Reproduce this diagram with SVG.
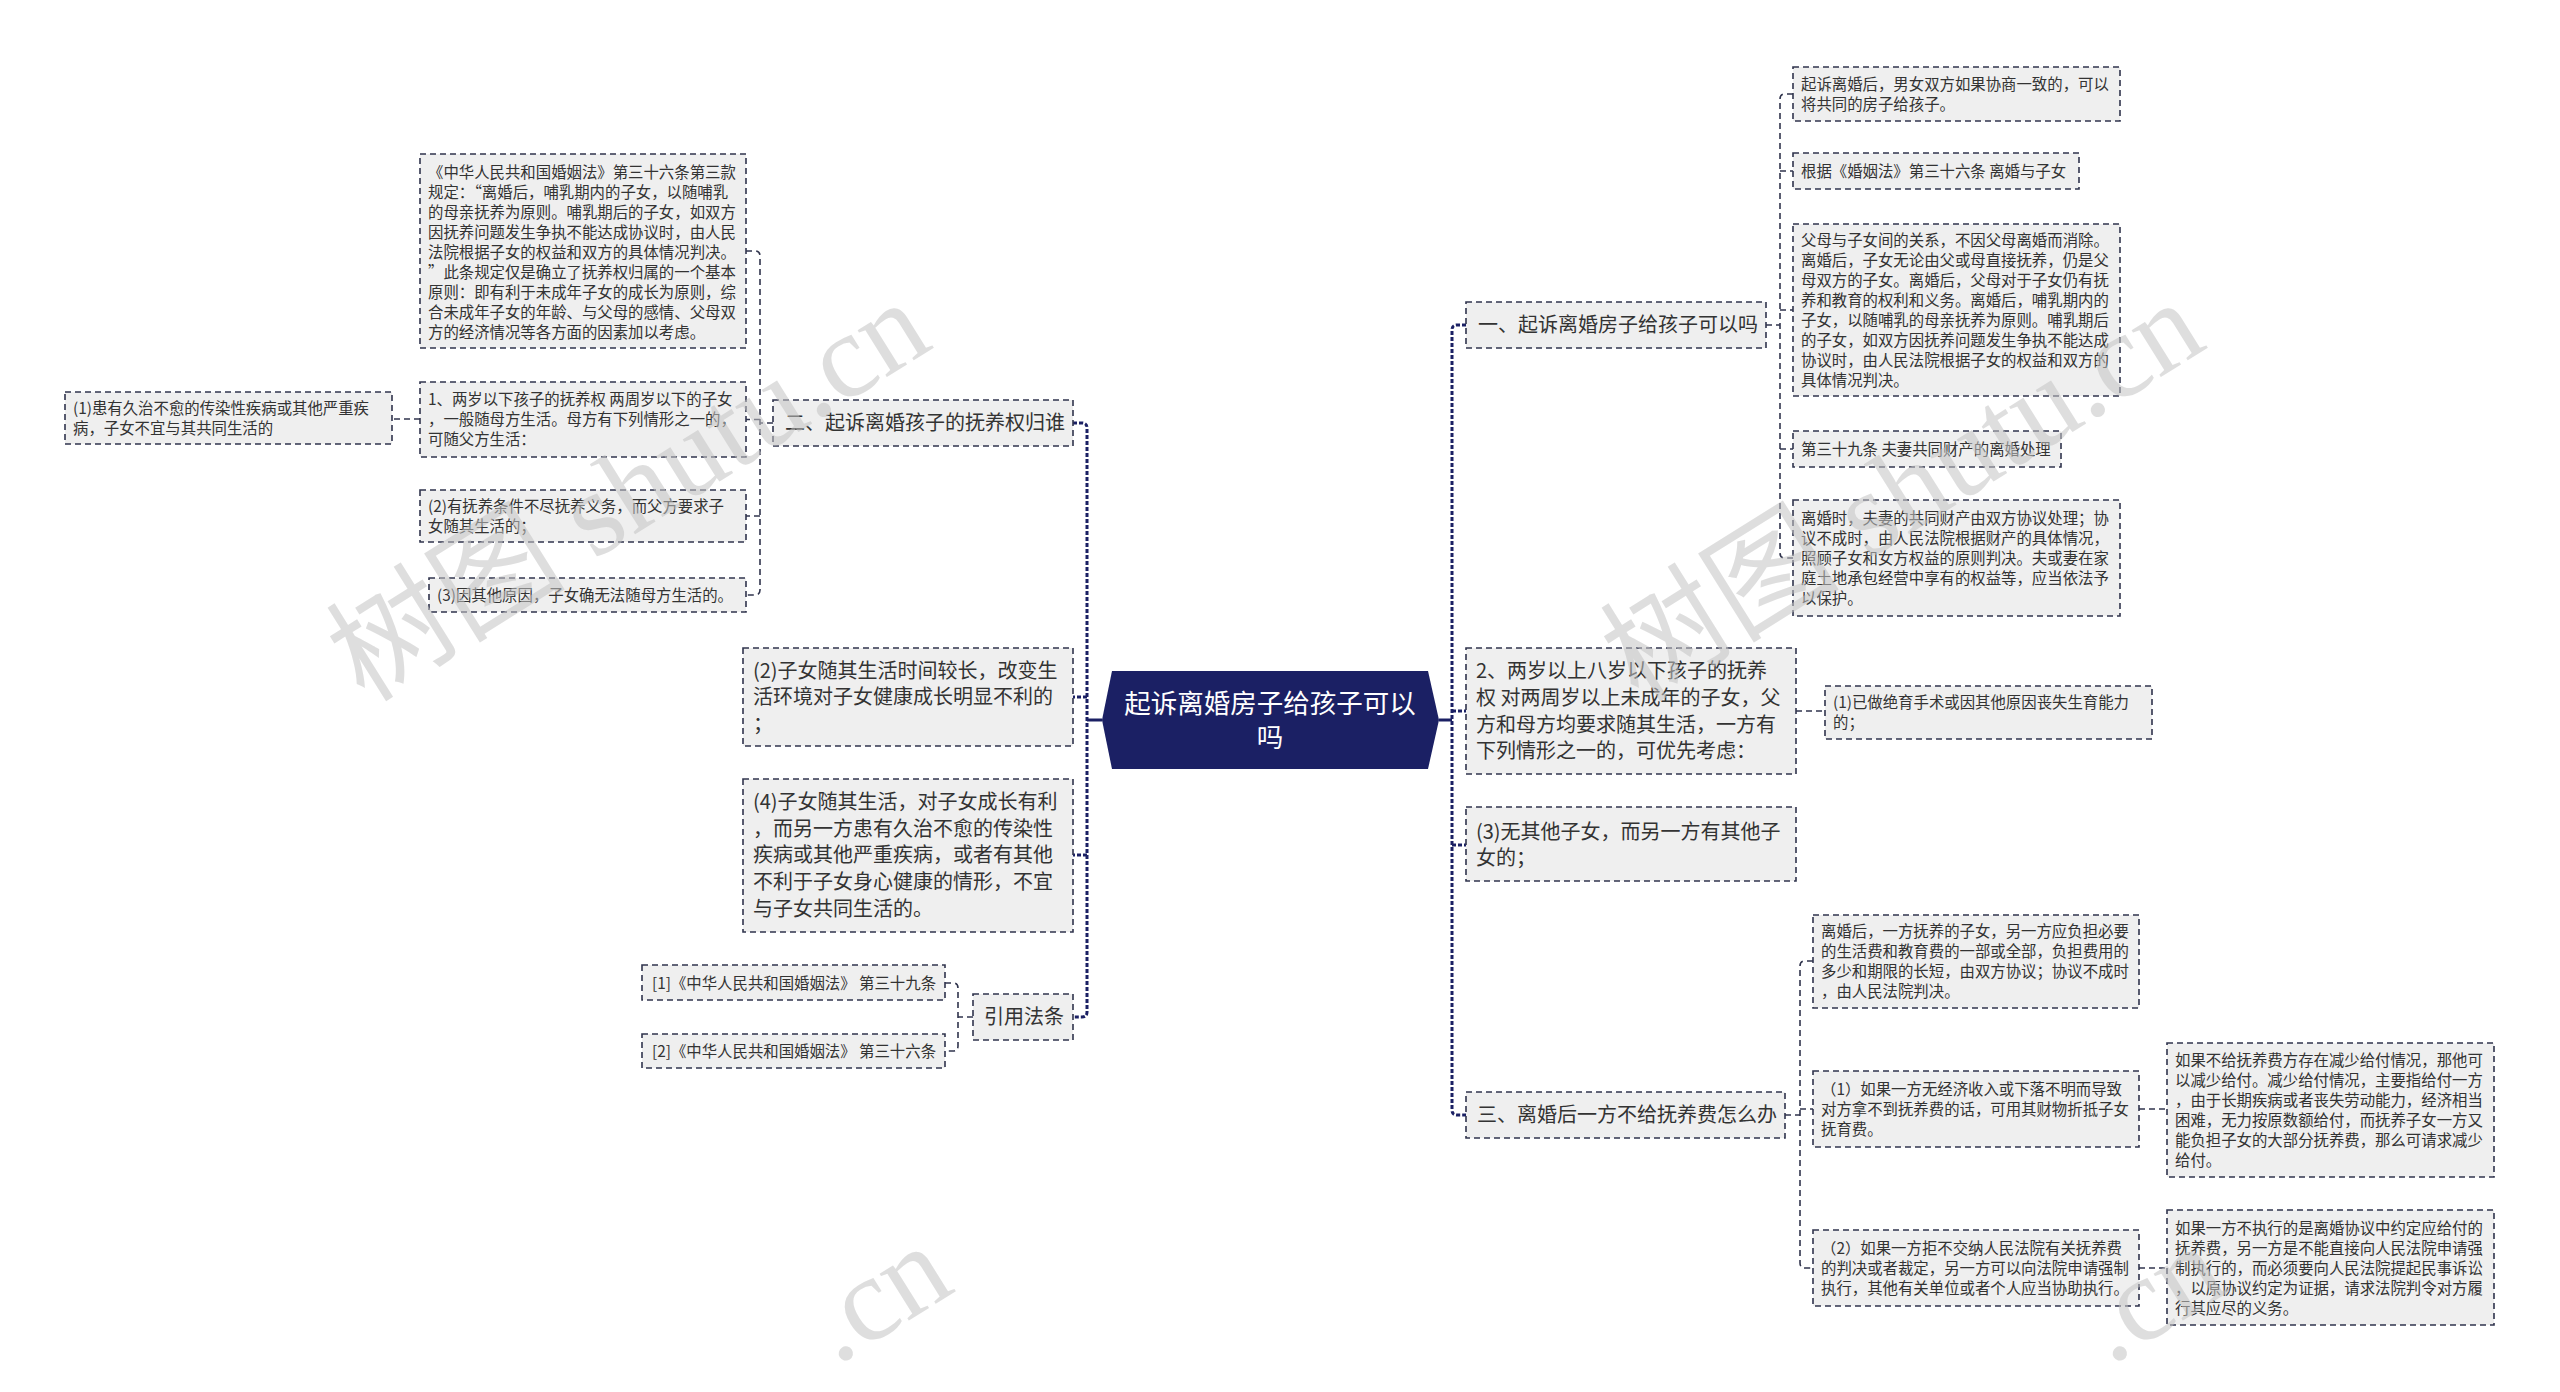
<svg xmlns="http://www.w3.org/2000/svg" width="2560" height="1392" viewBox="0 0 2560 1392">
<style>
.box{fill:#efefef;stroke:#30344d;stroke-width:1.6;stroke-dasharray:6 4}
.t{font-family:"Noto Sans CJK SC","Liberation Sans",sans-serif;fill:#333}
.s{font-size:15.4px}
.m{font-size:20px}
.trunk{fill:none;stroke:#1b2064;stroke-width:3;stroke-dasharray:4 2}
.solid{fill:none;stroke:#1b2064;stroke-width:3}
.link{fill:none;stroke:#30344d;stroke-width:1.6;stroke-dasharray:6 4}
.wm{font-family:"Liberation Serif","Noto Sans CJK SC",serif;font-size:120px;fill:#c4c4c4;opacity:0.55}
</style>
<rect width="2560" height="1392" fill="#ffffff"/>

<g id="connectors">
  <path class="solid" d="M1102,720 H1087"/>
  <path class="solid" d="M1439,720 H1452"/>
  <path class="trunk" d="M1073,423 H1082 Q1087,423 1087,428 V1012 Q1087,1017 1082,1017 H1073"/>
  <path class="trunk" d="M1087,697 H1073 M1087,855 H1073"/>
  <path class="trunk" d="M1466,325 H1457 Q1452,325 1452,330 V1110 Q1452,1115 1457,1115 H1466"/>
  <path class="trunk" d="M1452,711 H1466 M1452,845 H1466"/>
  <path class="link" d="M773,423 H760"/>
  <path class="link" d="M746,251 H755 Q760,251 760,256 V590 Q760,595 755,595 H746"/>
  <path class="link" d="M760,419.5 H746 M760,516 H746"/>
  <path class="link" d="M420,419 H392"/>
  <path class="link" d="M973,1017 H958"/>
  <path class="link" d="M945,983 H953 Q958,983 958,988 V1046 Q958,1051 953,1051 H945"/>
  <path class="link" d="M1766,325 H1780"/>
  <path class="link" d="M1793,94 H1785 Q1780,94 1780,99 V553 Q1780,558 1785,558 H1793"/>
  <path class="link" d="M1780,171 H1793 M1780,310 H1793 M1780,449 H1793"/>
  <path class="link" d="M1796,711 H1825"/>
  <path class="link" d="M1785,1115 H1800"/>
  <path class="link" d="M1813,961 H1805 Q1800,961 1800,966 V1263 Q1800,1268 1805,1268 H1813"/>
  <path class="link" d="M1800,1109 H1813"/>
  <path class="link" d="M2139,1109 H2167 M2139,1268 H2167"/>
</g>

<g id="center">
  <polygon points="1102,720 1112,671 1428,671 1439,720 1428,769 1112,769" fill="#1b2064"/>
  <text x="1270" y="712.5" text-anchor="middle" style="font-family:'Noto Sans CJK SC',sans-serif;font-size:26.5px;fill:#ffffff">起诉离婚房子给孩子可以</text>
  <text x="1270" y="746.5" text-anchor="middle" style="font-family:'Noto Sans CJK SC',sans-serif;font-size:26.5px;fill:#ffffff">吗</text>
</g>

<!-- Left side -->
<g id="nodeA">
  <rect class="box" x="773" y="400" width="300" height="46"/>
  <text class="t m" x="785" y="430">二、起诉离婚孩子的抚养权归谁</text>
</g>
<g id="nodeA1">
  <rect class="box" x="420" y="154" width="326" height="194"/>
  <text class="t s">
    <tspan x="428" y="178">《中华人民共和国婚姻法》第三十六条第三款</tspan>
    <tspan x="428" y="198">规定：“离婚后，哺乳期内的子女，以随哺乳</tspan>
    <tspan x="428" y="218">的母亲抚养为原则。哺乳期后的子女，如双方</tspan>
    <tspan x="428" y="238">因抚养问题发生争执不能达成协议时，由人民</tspan>
    <tspan x="428" y="258">法院根据子女的权益和双方的具体情况判决。</tspan>
    <tspan x="428" y="278">”此条规定仅是确立了抚养权归属的一个基本</tspan>
    <tspan x="428" y="298">原则：即有利于未成年子女的成长为原则，综</tspan>
    <tspan x="428" y="318">合未成年子女的年龄、与父母的感情、父母双</tspan>
    <tspan x="428" y="338">方的经济情况等各方面的因素加以考虑。</tspan>
  </text>
</g>
<g id="nodeA2">
  <rect class="box" x="420" y="382" width="326" height="75"/>
  <text class="t s">
    <tspan x="428" y="405">1、两岁以下孩子的抚养权 两周岁以下的子女</tspan>
    <tspan x="428" y="425">，一般随母方生活。母方有下列情形之一的，</tspan>
    <tspan x="428" y="445">可随父方生活：</tspan>
  </text>
</g>
<g id="nodeA2c">
  <rect class="box" x="65" y="392" width="327" height="52"/>
  <text class="t s">
    <tspan x="73" y="413.5">(1)患有久治不愈的传染性疾病或其他严重疾</tspan>
    <tspan x="73" y="433.5">病，子女不宜与其共同生活的</tspan>
  </text>
</g>
<g id="nodeA3">
  <rect class="box" x="420" y="490" width="326" height="52"/>
  <text class="t s">
    <tspan x="428" y="511.5">(2)有抚养条件不尽抚养义务，而父方要求子</tspan>
    <tspan x="428" y="531.5">女随其生活的；</tspan>
  </text>
</g>
<g id="nodeA4">
  <rect class="box" x="429" y="578" width="317" height="34"/>
  <text class="t s" x="437" y="600.5">(3)因其他原因，子女确无法随母方生活的。</text>
</g>
<g id="nodeB">
  <rect class="box" x="743" y="648" width="330" height="98"/>
  <text class="t m">
    <tspan x="753" y="677.5">(2)子女随其生活时间较长，改变生</tspan>
    <tspan x="753" y="704">活环境对子女健康成长明显不利的</tspan>
    <tspan x="753" y="731">；</tspan>
  </text>
</g>
<g id="nodeC">
  <rect class="box" x="743" y="779" width="330" height="153"/>
  <text class="t m">
    <tspan x="753" y="809">(4)子女随其生活，对子女成长有利</tspan>
    <tspan x="753" y="835.5">，而另一方患有久治不愈的传染性</tspan>
    <tspan x="753" y="862">疾病或其他严重疾病，或者有其他</tspan>
    <tspan x="753" y="889">不利于子女身心健康的情形，不宜</tspan>
    <tspan x="753" y="915.5">与子女共同生活的。</tspan>
  </text>
</g>
<g id="nodeD">
  <rect class="box" x="973" y="994" width="100" height="46"/>
  <text class="t m" x="984" y="1024">引用法条</text>
</g>
<g id="nodeD1">
  <rect class="box" x="642" y="965" width="303" height="35"/>
  <text class="t s" x="652" y="988.5">[1]《中华人民共和国婚姻法》 第三十九条</text>
</g>
<g id="nodeD2">
  <rect class="box" x="642" y="1034" width="303" height="34"/>
  <text class="t s" x="652" y="1056.5">[2]《中华人民共和国婚姻法》 第三十六条</text>
</g>

<!-- Right side -->
<g id="nodeR1">
  <rect class="box" x="1466" y="302" width="300" height="46"/>
  <text class="t m" x="1478" y="332">一、起诉离婚房子给孩子可以吗</text>
</g>
<g id="nodeR1a">
  <rect class="box" x="1793" y="67" width="327" height="54"/>
  <text class="t s">
    <tspan x="1801" y="89.5">起诉离婚后，男女双方如果协商一致的，可以</tspan>
    <tspan x="1801" y="109.5">将共同的房子给孩子。</tspan>
  </text>
</g>
<g id="nodeR1b">
  <rect class="box" x="1793" y="153" width="286" height="36"/>
  <text class="t s" x="1801" y="176.5">根据《婚姻法》第三十六条 离婚与子女</text>
</g>
<g id="nodeR1c">
  <rect class="box" x="1793" y="224" width="327" height="172"/>
  <text class="t s">
    <tspan x="1801" y="245.5">父母与子女间的关系，不因父母离婚而消除。</tspan>
    <tspan x="1801" y="265.5">离婚后，子女无论由父或母直接抚养，仍是父</tspan>
    <tspan x="1801" y="285.5">母双方的子女。离婚后，父母对于子女仍有抚</tspan>
    <tspan x="1801" y="305.5">养和教育的权利和义务。离婚后，哺乳期内的</tspan>
    <tspan x="1801" y="325.5">子女，以随哺乳的母亲抚养为原则。哺乳期后</tspan>
    <tspan x="1801" y="345.5">的子女，如双方因抚养问题发生争执不能达成</tspan>
    <tspan x="1801" y="365.5">协议时，由人民法院根据子女的权益和双方的</tspan>
    <tspan x="1801" y="385.5">具体情况判决。</tspan>
  </text>
</g>
<g id="nodeR1d">
  <rect class="box" x="1793" y="431" width="268" height="36"/>
  <text class="t s" x="1801" y="454.5">第三十九条 夫妻共同财产的离婚处理</text>
</g>
<g id="nodeR1e">
  <rect class="box" x="1793" y="500" width="327" height="116"/>
  <text class="t s">
    <tspan x="1801" y="523.5">离婚时，夫妻的共同财产由双方协议处理；协</tspan>
    <tspan x="1801" y="543.5">议不成时，由人民法院根据财产的具体情况，</tspan>
    <tspan x="1801" y="563.5">照顾子女和女方权益的原则判决。夫或妻在家</tspan>
    <tspan x="1801" y="583.5">庭土地承包经营中享有的权益等，应当依法予</tspan>
    <tspan x="1801" y="603.5">以保护。</tspan>
  </text>
</g>
<g id="nodeR2">
  <rect class="box" x="1466" y="648" width="330" height="126"/>
  <text class="t m">
    <tspan x="1476" y="678">2、两岁以上八岁以下孩子的抚养</tspan>
    <tspan x="1476" y="705">权 对两周岁以上未成年的子女，父</tspan>
    <tspan x="1476" y="731.5">方和母方均要求随其生活，一方有</tspan>
    <tspan x="1476" y="758">下列情形之一的，可优先考虑：</tspan>
  </text>
</g>
<g id="nodeR2c">
  <rect class="box" x="1825" y="686" width="327" height="53"/>
  <text class="t s">
    <tspan x="1833" y="707.5">(1)已做绝育手术或因其他原因丧失生育能力</tspan>
    <tspan x="1833" y="727.5">的；</tspan>
  </text>
</g>
<g id="nodeR3">
  <rect class="box" x="1466" y="807" width="330" height="74"/>
  <text class="t m">
    <tspan x="1476" y="839">(3)无其他子女，而另一方有其他子</tspan>
    <tspan x="1476" y="865">女的；</tspan>
  </text>
</g>
<g id="nodeR4">
  <rect class="box" x="1466" y="1092" width="319" height="46"/>
  <text class="t m" x="1477" y="1122">三、离婚后一方不给抚养费怎么办</text>
</g>
<g id="nodeR4a">
  <rect class="box" x="1813" y="915" width="326" height="93"/>
  <text class="t s">
    <tspan x="1821" y="936.5">离婚后，一方抚养的子女，另一方应负担必要</tspan>
    <tspan x="1821" y="956.5">的生活费和教育费的一部或全部，负担费用的</tspan>
    <tspan x="1821" y="976.5">多少和期限的长短，由双方协议；协议不成时</tspan>
    <tspan x="1821" y="996.5">，由人民法院判决。</tspan>
  </text>
</g>
<g id="nodeR4b">
  <rect class="box" x="1813" y="1071" width="326" height="76"/>
  <text class="t s">
    <tspan x="1821" y="1094.5">（1）如果一方无经济收入或下落不明而导致</tspan>
    <tspan x="1821" y="1114.5">对方拿不到抚养费的话，可用其财物折抵子女</tspan>
    <tspan x="1821" y="1134.5">抚育费。</tspan>
  </text>
</g>
<g id="nodeR4c">
  <rect class="box" x="1813" y="1230" width="326" height="76"/>
  <text class="t s">
    <tspan x="1821" y="1253.5">（2）如果一方拒不交纳人民法院有关抚养费</tspan>
    <tspan x="1821" y="1273.5">的判决或者裁定，另一方可以向法院申请强制</tspan>
    <tspan x="1821" y="1293.5">执行，其他有关单位或者个人应当协助执行。</tspan>
  </text>
</g>
<g id="nodeR4b1">
  <rect class="box" x="2167" y="1043" width="327" height="134"/>
  <text class="t s">
    <tspan x="2175" y="1065.5">如果不给抚养费方存在减少给付情况，那他可</tspan>
    <tspan x="2175" y="1085.5">以减少给付。减少给付情况，主要指给付一方</tspan>
    <tspan x="2175" y="1105.5">，由于长期疾病或者丧失劳动能力，经济相当</tspan>
    <tspan x="2175" y="1125.5">困难，无力按原数额给付，而抚养子女一方又</tspan>
    <tspan x="2175" y="1145.5">能负担子女的大部分抚养费，那么可请求减少</tspan>
    <tspan x="2175" y="1165.5">给付。</tspan>
  </text>
</g>
<g id="nodeR4c1">
  <rect class="box" x="2167" y="1210" width="327" height="115"/>
  <text class="t s">
    <tspan x="2175" y="1233.5">如果一方不执行的是离婚协议中约定应给付的</tspan>
    <tspan x="2175" y="1253.5">抚养费，另一方是不能直接向人民法院申请强</tspan>
    <tspan x="2175" y="1273.5">制执行的，而必须要向人民法院提起民事诉讼</tspan>
    <tspan x="2175" y="1293.5">，以原协议约定为证据，请求法院判令对方履</tspan>
    <tspan x="2175" y="1313.5">行其应尽的义务。</tspan>
  </text>
</g>

<g id="watermarks">
  <text class="wm" text-anchor="middle" transform="translate(650,525) rotate(-32)">树图 shutu.cn</text>
  <text class="wm" text-anchor="middle" transform="translate(1924,525) rotate(-32)">树图 shutu.cn</text>
  <text class="wm" transform="translate(836,1366) rotate(-32)">.cn</text>
  <text class="wm" transform="translate(2110,1366) rotate(-32)">.cn</text>
</g>
</svg>
